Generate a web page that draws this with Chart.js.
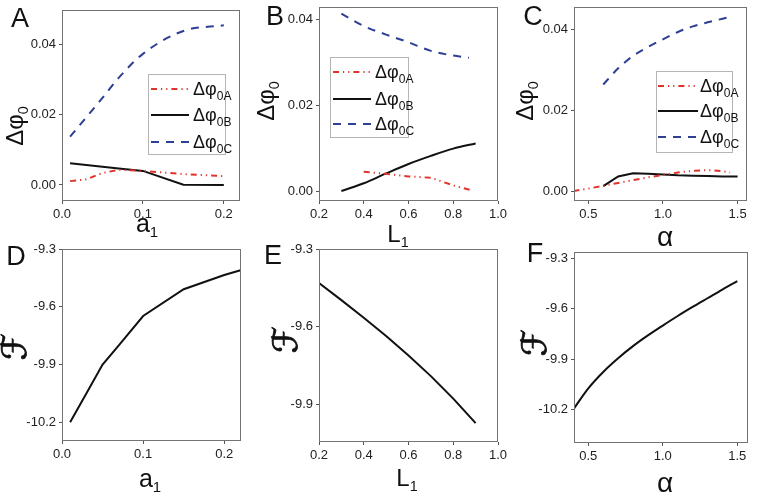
<!DOCTYPE html>
<html>
<head>
<meta charset="utf-8">
<script src="https://cdn.jsdelivr.net/npm/chart.js@4/dist/chart.umd.min.js"></script>
<style>
  html,body{margin:0;padding:0;background:#fff;}
  #root{position:relative;width:757px;height:498px;overflow:hidden;background:#fff;font-family:"Liberation Sans",Arial,sans-serif;color:#111;}
  canvas{position:absolute;}
  .t{position:absolute;white-space:nowrap;line-height:1;}
  .t sub{font-size:0.6em;vertical-align:-0.35em;line-height:0;}
  .lg{position:absolute;border:1px solid #b5b5b5;background:#fff;box-sizing:border-box;}
  .lg .row{position:absolute;left:0;height:20px;width:100%;}
  .lg svg{position:absolute;left:0;top:0;}
  .lg .lt{position:absolute;top:0;font-size:18px;line-height:20px;white-space:nowrap;}
  .lg .lt sub{font-size:12px;vertical-align:-5px;line-height:0;}
</style>
</head>
<body>
<div id="root"></div>
<script>
// ---------------- data ----------------
// Panel A : Δφ0 vs a1
const A_a1 = [0.01, 0.03, 0.05, 0.07, 0.10, 0.15, 0.20];
const A_phi0A = [0.0011, 0.0016, 0.0034, 0.0043, 0.0040, 0.0031, 0.0025];
const A_phi0B = [0.0062, 0.0057, 0.0052, 0.0047, 0.0040, 0.0001, 0.0000];
const A_phi0C = [0.0137, 0.0192, 0.0247, 0.0304, 0.0372, 0.0437, 0.0453];

// Panel B : Δφ0 vs L1
const B_L1 = [0.3, 0.4, 0.5, 0.6, 0.7, 0.8, 0.9];
const B_L1_A = [0.4, 0.5, 0.6, 0.7, 0.8, 0.88];
const B_L1_C = [0.3, 0.4, 0.5, 0.6, 0.7, 0.8, 0.87];
const B_phi0A = [0.0045, 0.0040, 0.0034, 0.0031, 0.0013, 0.0002];
const B_phi0B = [0.0000, 0.0018, 0.0041, 0.0063, 0.0082, 0.0099, 0.0111];
const B_phi0C = [0.0414, 0.0385, 0.0365, 0.0347, 0.0327, 0.0316, 0.0311];

// Panel C : Δφ0 vs α
const C_alpha_A = [0.4, 0.5, 0.6, 0.7, 0.8, 0.9, 1.0, 1.1, 1.2, 1.3, 1.4, 1.45];
const C_alpha_B = [0.6, 0.7, 0.8, 0.9, 1.0, 1.1, 1.2, 1.3, 1.4, 1.5];
const C_alpha_C = [0.6, 0.7, 0.8, 0.9, 1.0, 1.1, 1.2, 1.3, 1.4, 1.45];
const C_phi0A = [0.0000, 0.0006, 0.0013, 0.0020, 0.0027, 0.0034, 0.0040, 0.0046, 0.0050, 0.0052, 0.0049, 0.0046];
const C_phi0B = [0.0012, 0.0036, 0.0044, 0.0043, 0.0041, 0.0039, 0.0038, 0.0037, 0.0036, 0.0036];
const C_phi0C = [0.0264, 0.0304, 0.0335, 0.0357, 0.0376, 0.0394, 0.0408, 0.0418, 0.0427, 0.0431];

// Panel D : F vs a1
const D_a1 = [0.01, 0.03, 0.05, 0.07, 0.10, 0.15, 0.20, 0.22];
const D_F = [-10.20, -10.05, -9.90, -9.80, -9.648, -9.509, -9.435, -9.41];

// Panel E : F vs L1
const E_L1 = [0.2, 0.3, 0.4, 0.5, 0.6, 0.7, 0.8, 0.9];
const E_F = [-9.432, -9.498, -9.566, -9.637, -9.712, -9.792, -9.879, -9.974];

// Panel F : F vs α
const F_alpha = [0.4, 0.5, 0.6, 0.7, 0.8, 0.9, 1.0, 1.1, 1.2, 1.3, 1.4, 1.5];
const F_F = [-10.20, -10.075, -9.977, -9.895, -9.823, -9.759, -9.700, -9.643, -9.589, -9.537, -9.485, -9.435];

// ---------------- styles ----------------
const RED = '#e0332b', BLACK = '#111111', BLUE = '#2f3f93';
const DASH_A = [6, 4, 1.2, 4, 1.2, 4];
const DASH_C = [8, 7];

const WY = 52, HX = 26, PT = 14, PR = 14;
const root = document.getElementById('root');

function pts(xs, ys){ return xs.map((x,i)=>({x:x, y:ys[i]})); }

const framePlugin = {
  id:'frame',
  afterDraw(chart){
    const a = chart.chartArea, c = chart.ctx;
    c.save();
    c.strokeStyle = '#737373'; c.lineWidth = 1;
    c.strokeRect(Math.round(a.left)+0.5, Math.round(a.top)+0.5, Math.round(a.right-a.left)-1, Math.round(a.bottom-a.top)-1);
    c.restore();
  }
};

function scale(min, max, step, dec, horiz){
  return {
    type:'linear', min:min, max:max,
    border:{display:false},
    grid:{display:true, drawOnChartArea:false, drawTicks:true, tickLength:3, color:'#555', lineWidth:1},
    ticks:{stepSize:step, includeBounds:false, padding:3, color:'#222',
      font:{family:'"Liberation Sans", Arial, sans-serif', size:13},
      maxRotation:0, autoSkip:false,
      callback:(v)=>Number(v).toFixed(dec)},
    afterFit:(s)=>{ if(horiz) s.height = HX; else s.width = WY; }
  };
}

function panel(L,T,R,B, xs, ys, datasets){
  const pw = Math.round(R-L), ph = Math.round(B-T);
  const cv = document.createElement('canvas');
  cv.width = WY + pw + PR; cv.height = PT + ph + HX;
  cv.style.left = (Math.round(L) - WY) + 'px';
  cv.style.top = (Math.round(T) - PT) + 'px';
  cv.style.width = cv.width + 'px'; cv.style.height = cv.height + 'px';
  root.appendChild(cv);
  new Chart(cv.getContext('2d'), {
    type:'scatter',
    data:{datasets:datasets.map(d=>Object.assign({showLine:true, pointRadius:0, pointHoverRadius:0, borderWidth:2, fill:false, tension:0}, d))},
    options:{
      responsive:false, animation:false, devicePixelRatio:1,
      layout:{padding:{left:0, top:PT, right:PR, bottom:0}, autoPadding:false},
      plugins:{legend:{display:false}, tooltip:{enabled:false}},
      scales:{ x: scale(xs[0], xs[1], xs[2], xs[3], true), y: scale(ys[0], ys[1], ys[2], ys[3], false) }
    },
    plugins:[framePlugin]
  });
}
const SMOOTH = {cubicInterpolationMode:'monotone'};

// Panels
panel(61.7, 10, 240, 201, [0, 0.22, 0.1, 1], [-0.00454, 0.04965, 0.02, 2], [
  {data:pts(A_a1, A_phi0A), borderColor:RED, borderDash:DASH_A},
  {data:pts(A_a1, A_phi0B), borderColor:BLACK},
  Object.assign({data:pts(A_a1, A_phi0C), borderColor:BLUE, borderDash:DASH_C}, SMOOTH)
]);
panel(319.3, 6.7, 498.3, 201, [0.2, 1.0, 0.2, 1], [-0.00233, 0.04294, 0.02, 2], [
  {data:pts(B_L1_A, B_phi0A), borderColor:RED, borderDash:DASH_A},
  Object.assign({data:pts(B_L1, B_phi0B), borderColor:BLACK}, SMOOTH),
  Object.assign({data:pts(B_L1_C, B_phi0C), borderColor:BLUE, borderDash:DASH_C}, SMOOTH)
]);
panel(574, 6.7, 746.7, 201, [0.404, 1.563, 0.5, 1], [-0.00247, 0.0456, 0.02, 2], [
  {data:pts(C_alpha_A, C_phi0A), borderColor:RED, borderDash:DASH_A},
  {data:pts(C_alpha_B, C_phi0B), borderColor:BLACK},
  Object.assign({data:pts(C_alpha_C, C_phi0C), borderColor:BLUE, borderDash:DASH_C}, SMOOTH)
]);
panel(61.7, 249, 240.7, 441, [0, 0.2206, 0.1, 1], [-10.297, -9.3, 0.3, 1], [
  {data:pts(D_a1, D_F), borderColor:BLACK}
]);
panel(319.3, 249.3, 498.3, 442, [0.2, 1.0, 0.2, 1], [-10.047, -9.3, 0.3, 1], [
  {data:pts(E_L1, E_F), borderColor:BLACK}
]);
panel(574, 251.7, 748, 442.7, [0.404, 1.572, 0.5, 1], [-10.401, -9.261, 0.3, 1], [
  Object.assign({data:pts(F_alpha, F_F), borderColor:BLACK}, SMOOTH)
]);

// ---------------- text ----------------
function txt(html, cx, cy, size, rot, family, extra){
  const d = document.createElement('div');
  d.className = 't';
  d.innerHTML = html;
  d.style.left = cx + 'px'; d.style.top = cy + 'px';
  d.style.fontSize = size + 'px';
  if (family) d.style.fontFamily = family;
  if (extra) Object.assign(d.style, extra);
  d.style.transform = 'translate(-50%,-50%)' + (rot ? ' rotate(-90deg)' : '');
  root.appendChild(d);
}
// panel letters
[['A',20,18],['B',275,16],['C',533,16],['D',16,256],['E',273,255],['F',535,253]].forEach(p=>txt(p[0], p[1], p[2], 27));
// x titles
txt('a<sub>1</sub>', 147, 223, 25);
txt('L<sub>1</sub>', 398, 234, 24);
txt('&alpha;', 665, 237, 28);
txt('a<sub>1</sub>', 150, 478, 25);
txt('L<sub>1</sub>', 407, 478, 24);
txt('&alpha;', 665, 483, 28);
// y titles
txt('&Delta;&phi;<sub>0</sub>', 15, 126, 24, true);
txt('&Delta;&phi;<sub>0</sub>', 266, 101, 24, true);
txt('&Delta;&phi;<sub>0</sub>', 525, 101, 24, true);
const FSTYLE = {webkitTextStroke:'0.8px #111'};
txt('&#x2131;', 14, 347, 34, true, '"DejaVu Serif", "DejaVu Sans", serif', FSTYLE);
txt('&#x2131;', 285, 340, 34, true, '"DejaVu Serif", "DejaVu Sans", serif', FSTYLE);
txt('&#x2131;', 534, 343, 34, true, '"DejaVu Serif", "DejaVu Sans", serif', FSTYLE);

// ---------------- legends ----------------
const legendItems = [
  {sub:'0A', color:RED, dash:DASH_A},
  {sub:'0B', color:BLACK, dash:null},
  {sub:'0C', color:BLUE, dash:DASH_C}
];
function legend(x, y, w, h, rows, lineX0, lineX1, textX){
  const box = document.createElement('div');
  box.className = 'lg';
  box.style.left = x + 'px'; box.style.top = y + 'px';
  box.style.width = w + 'px'; box.style.height = h + 'px';
  legendItems.forEach((it, i)=>{
    const r = document.createElement('div');
    r.className = 'row';
    r.style.top = (rows[i] - 10) + 'px';
    const dash = it.dash ? ' stroke-dasharray="' + it.dash.join(' ') + '"' : '';
    r.innerHTML = '<svg width="' + w + '" height="20"><line x1="' + lineX0 + '" y1="10" x2="' + lineX1 + '" y2="10" stroke="' + it.color + '" stroke-width="2"' + dash + '/></svg>' +
      '<div class="lt" style="left:' + textX + 'px">&Delta;&phi;<sub>' + it.sub + '</sub></div>';
    box.appendChild(r);
  });
  root.appendChild(box);
}
legend(148, 74, 78, 81, [14, 40, 67], 2, 40, 44);
legend(330, 57, 79, 81, [14, 41, 66], 2, 40, 44);
legend(656, 71, 77, 82, [14, 39, 65], 1, 41, 43);
</script>
</body>
</html>
